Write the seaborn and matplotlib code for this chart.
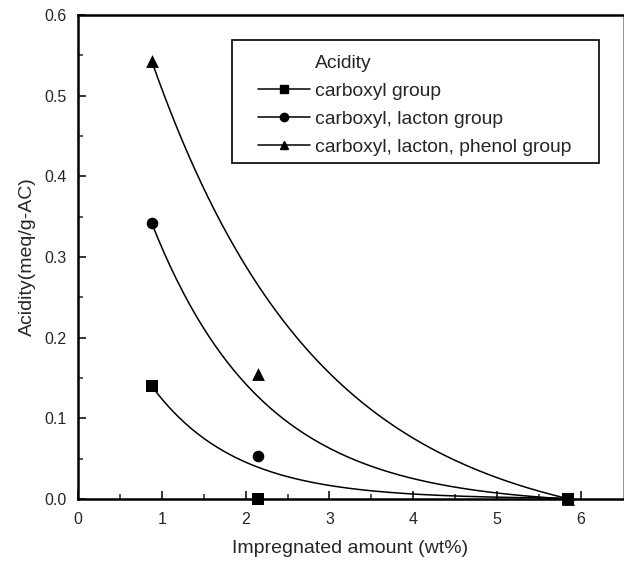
import numpy as np
import pandas as pd
import matplotlib
matplotlib.use("Agg")
import matplotlib.pyplot as plt
from matplotlib.lines import Line2D
from matplotlib.patches import Rectangle
import seaborn as sns

# ---- data ----
impregnated = [0.88, 2.15, 5.85]
series_names = ["carboxyl group", "carboxyl, lacton group", "carboxyl, lacton, phenol group"]
carboxyl = [0.140, 0.0, 0.0]
lacton = [0.342, 0.053, 0.0]
phenol = [0.543, 0.155, 0.0]
# exponential-decay fit parameters (y = y0 + A*exp(-k*(x - x0)))
fit_y0 = [0.0, -0.0085, -0.049]
fit_A = [0.140, 0.3505, 0.592]
fit_k = [1.00, 0.75, 0.50]
markers = ["s", "o", "^"]
legend_title = "Acidity"
x_ticks = [0, 1, 2, 3, 4, 5, 6]
y_ticks = [0.0, 0.1, 0.2, 0.3, 0.4, 0.5, 0.6]

sns.set_style("ticks")
plt.rcParams["font.family"] = ["Liberation Sans", "DejaVu Sans"]

fig = plt.figure(figsize=(6.24, 5.61), dpi=100)
ax = fig.add_axes([0.125, 0.1105, 0.873, 0.8625])

values = [carboxyl, lacton, phenol]
rows = []
for name, vals in zip(series_names, values):
    for x, y in zip(impregnated, vals):
        rows.append({"x": x, "y": y, "series": name})
pts = pd.DataFrame(rows)

curve_rows = []
x0, x1 = impregnated[0], impregnated[-1]
xs = np.linspace(x0, x1, 200)
for name, y0, A, k in zip(series_names, fit_y0, fit_A, fit_k):
    ys = y0 + A * np.exp(-k * (xs - x0))
    for x, y in zip(xs, ys):
        curve_rows.append({"x": x, "y": y, "series": name})
curves = pd.DataFrame(curve_rows)

sns.lineplot(data=curves, x="x", y="y", hue="series", palette=["black"] * 3,
             linewidth=1.1, legend=False, ax=ax, sort=False)
for name, m, s in zip(series_names, markers, [70, 70, 85]):
    sub = pts[pts["series"] == name]
    sns.scatterplot(data=sub, x="x", y="y", marker=m, color="black", s=s,
                    edgecolor="black", linewidth=0, legend=False, ax=ax, clip_on=False, zorder=5)

ax.set_xlim(0, 6.5)
ax.set_ylim(0, 0.6)
ax.set_xticks(x_ticks)
ax.set_yticks(y_ticks)
ax.set_yticklabels([f"{v:.1f}" for v in y_ticks])
ax.set_xticks(np.arange(0.5, 6.5, 1.0), minor=True)
ax.set_yticks(np.arange(0.05, 0.6, 0.1), minor=True)
ax.tick_params(axis="x", which="major", direction="in", length=6, width=1.3, labelsize=11.5, pad=9)
ax.tick_params(axis="y", which="major", direction="in", length=6, width=1.3, labelsize=11.5, pad=8)
ax.tick_params(which="minor", direction="in", length=3.5, width=1.1)
for side in ["left", "bottom", "top"]:
    ax.spines[side].set_linewidth(1.8)
    ax.spines[side].set_color("black")
ax.spines["right"].set_linewidth(0.8)
ax.spines["right"].set_color("#999999")

ax.set_xlabel("Impregnated amount (wt%)", fontsize=14, labelpad=10)
ax.set_ylabel("Acidity(meq/g-AC)", fontsize=14, labelpad=6)

# legend: title row as an entry without a handle, so it aligns with the labels
handles = [Line2D([], [], color="none")] + [
    Line2D([0], [0], color="black", lw=1.1, marker=m, markersize=6) for m in markers]
labels = [legend_title] + series_names
leg = ax.legend(handles, labels, loc="upper left", bbox_to_anchor=(0.330, 0.919),
                fontsize=13.9, frameon=False, handlelength=2.7, handletextpad=0.25,
                borderpad=0.0, borderaxespad=0.0, labelspacing=0.55)
ax.add_patch(Rectangle((0.2826, 0.694), 0.956 - 0.2826, 0.948 - 0.694,
                       transform=ax.transAxes, fill=False, edgecolor="black",
                       linewidth=1.2, zorder=4))

fig.savefig("out.png", dpi=100)
